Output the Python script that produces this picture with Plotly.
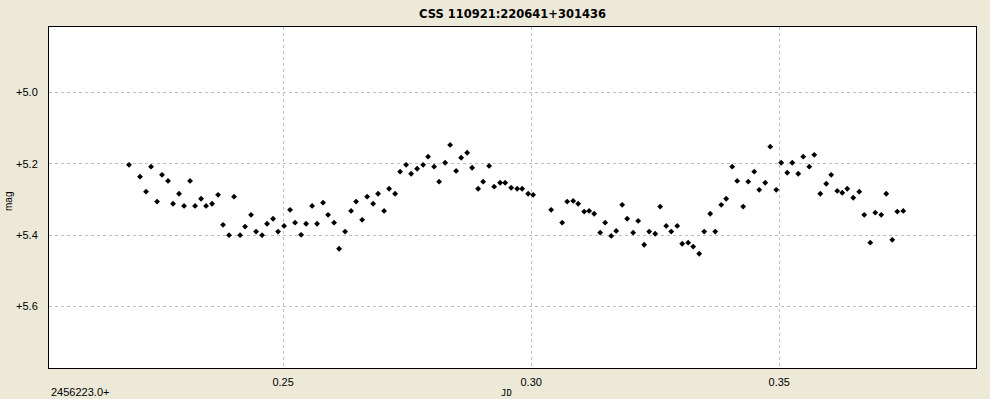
import plotly.graph_objects as go

# JD - 2456223.0
jd = [
    0.21895, 0.22117, 0.22238, 0.22339, 0.22460, 0.22560, 0.22681, 0.22782, 0.22903, 0.23004,
    0.23125, 0.23226, 0.23347, 0.23448, 0.23569, 0.23690, 0.23790, 0.23911, 0.24012, 0.24133,
    0.24234, 0.24355, 0.24456, 0.24577, 0.24677, 0.24798, 0.24899, 0.25020, 0.25141, 0.25242,
    0.25363, 0.25464, 0.25585, 0.25685, 0.25806, 0.25907, 0.26028, 0.26129, 0.26250, 0.26371,
    0.26472, 0.26593, 0.26694, 0.26815, 0.26915, 0.27036, 0.27137, 0.27258, 0.27359, 0.27480,
    0.27581, 0.27702, 0.27823, 0.27923, 0.28044, 0.28145, 0.28266, 0.28367, 0.28488, 0.28589,
    0.28710, 0.28810, 0.28931, 0.29032, 0.29153, 0.29254, 0.29375, 0.29476, 0.29597, 0.29718,
    0.29819, 0.29940, 0.30040, 0.30403, 0.30625, 0.30726, 0.30847, 0.30948, 0.31069, 0.31169,
    0.31270, 0.31391, 0.31492, 0.31613, 0.31714, 0.31835, 0.31935, 0.32056, 0.32157, 0.32278,
    0.32379, 0.32500, 0.32601, 0.32722, 0.32823, 0.32944, 0.33044, 0.33165, 0.33266, 0.33387,
    0.33488, 0.33609, 0.33710, 0.33831, 0.33931, 0.34052, 0.34153, 0.34274, 0.34375, 0.34496,
    0.34597, 0.34718, 0.34819, 0.34940, 0.35040, 0.35161, 0.35262, 0.35383, 0.35484, 0.35605,
    0.35706, 0.35827, 0.35948, 0.36048, 0.36169, 0.36270, 0.36371, 0.36492, 0.36613, 0.36714,
    0.36835, 0.36935, 0.37056, 0.37157, 0.37278, 0.37379, 0.37500,
]

mag = [
    5.203, 5.236, 5.278, 5.208, 5.306, 5.231, 5.248, 5.312, 5.284, 5.318,
    5.248, 5.318, 5.298, 5.318, 5.312, 5.287, 5.371, 5.400, 5.292, 5.400,
    5.376, 5.343, 5.390, 5.400, 5.368, 5.354, 5.390, 5.374, 5.329, 5.365,
    5.399, 5.368, 5.318, 5.368, 5.309, 5.343, 5.365, 5.438, 5.390, 5.332,
    5.306, 5.357, 5.292, 5.312, 5.284, 5.332, 5.270, 5.284, 5.222, 5.203,
    5.228, 5.214, 5.203, 5.180, 5.208, 5.250, 5.197, 5.147, 5.220, 5.183,
    5.169, 5.211, 5.270, 5.250, 5.206, 5.264, 5.253, 5.253, 5.267, 5.270,
    5.270, 5.284, 5.287, 5.329, 5.365, 5.306, 5.304, 5.312, 5.334, 5.332,
    5.340, 5.393, 5.365, 5.402, 5.388, 5.315, 5.354, 5.393, 5.360, 5.427,
    5.390, 5.396, 5.320, 5.374, 5.390, 5.374, 5.424, 5.421, 5.432, 5.452,
    5.390, 5.340, 5.390, 5.315, 5.298, 5.208, 5.248, 5.320, 5.250, 5.222,
    5.273, 5.253, 5.152, 5.273, 5.197, 5.225, 5.197, 5.228, 5.180, 5.208,
    5.175, 5.284, 5.256, 5.231, 5.276, 5.281, 5.270, 5.295, 5.278, 5.343,
    5.421, 5.337, 5.343, 5.284, 5.413, 5.334, 5.332,
]

x_ticks = [0.25, 0.30, 0.35]
x_tick_labels = ["0.25", "0.30", "0.35"]
y_ticks = [5.0, 5.2, 5.4, 5.6]
y_tick_labels = ["+5.0", "+5.2", "+5.4", "+5.6"]

title_text = "CSS 110921:220641+301436"
jd_base = "2456223.0+"

fig = go.Figure()
fig.add_trace(go.Scatter(
    x=jd, y=mag, mode="markers",
    marker=dict(symbol="diamond", size=4.5, color="black", line=dict(width=0)),
    hoverinfo="x+y", showlegend=False,
))

W, H = 990, 399
ml, mr, mt, mb = 49, 14, 27, 31
ph = H - mt - mb

def py(pix):
    return (H - mb - pix) / ph

tick_font = dict(family="Liberation Sans, Arial, sans-serif", size=11, color="black")

fig.update_layout(
    width=W, height=H,
    margin=dict(l=ml, r=mr, t=mt, b=mb, pad=0),
    paper_bgcolor="#ECE9D8",
    plot_bgcolor="white",
    xaxis=dict(
        range=[0.20282, 0.38966],
        tickvals=x_ticks, ticktext=x_tick_labels,
        showgrid=True, gridcolor="#C0C0C0", gridwidth=1, griddash="3px,3px",
        zeroline=False, showline=True, linecolor="black", linewidth=1, mirror=True,
        ticks="", tickfont=tick_font, ticklabelstandoff=4,
    ),
    yaxis=dict(
        range=[5.7722, 4.8167],
        tickvals=y_ticks, ticktext=y_tick_labels,
        showgrid=True, gridcolor="#C0C0C0", gridwidth=1, griddash="3px,3px",
        zeroline=False, showline=True, linecolor="black", linewidth=1, mirror=True,
        ticks="", tickfont=tick_font, ticklabelstandoff=8,
    ),
    annotations=[
        dict(text="<b>" + title_text + "</b>", x=0.5, y=py(14), xref="paper", yref="paper",
             xanchor="center", yanchor="middle", showarrow=False,
             font=dict(family="DejaVu Sans, sans-serif", size=11.5, color="black")),
        dict(text=jd_base, x=0, y=py(392), xref="paper", yref="paper",
             xanchor="left", yanchor="middle", showarrow=False,
             font=dict(family="Liberation Sans, Arial, sans-serif", size=11, color="black")),
        dict(text="JD", x=(506 - ml) / (W - ml - mr), y=py(393), xref="paper", yref="paper",
             xanchor="center", yanchor="middle", showarrow=False,
             font=dict(family="DejaVu Sans Mono, monospace", size=9, color="black")),
        dict(text="mag", x=(8 - ml) / (W - ml - mr), y=py(202), xref="paper", yref="paper",
             xanchor="center", yanchor="middle", showarrow=False, textangle=-90,
             font=dict(family="Liberation Sans, Arial, sans-serif", size=10, color="black")),
    ],
)

fig.write_html("out.html")
